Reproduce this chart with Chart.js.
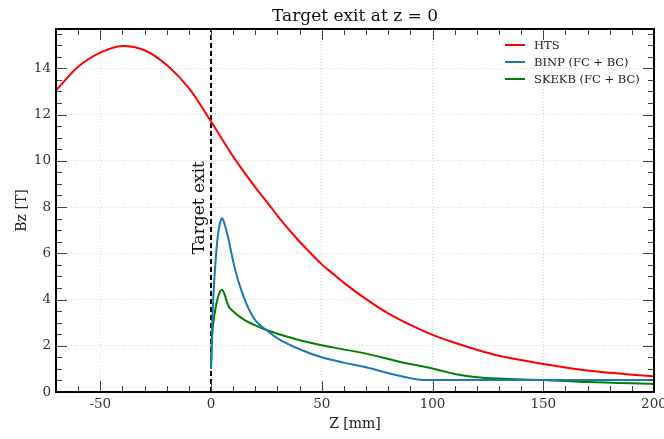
<!DOCTYPE html>
<html>
<head>
<meta charset="utf-8">
<script src="https://cdn.jsdelivr.net/npm/chart.js@4.4.0/dist/chart.umd.min.js"></script>
<style>
  html, body { margin: 0; padding: 0; background: #fff; }
  #wrap { width: 664px; height: 439px; }
</style>
</head>
<body>
<div id="wrap"><canvas id="bzChart"></canvas></div>
<script>
// Field profiles along the beam axis
const chartTitle = 'Target exit at z = 0';
const markerLabel = 'Target exit';

const htsZ  = [-70, -60, -50, -40, -30, -20, -10, 0, 10, 20, 27, 30, 40, 45, 50, 55, 60, 70, 80, 90, 100, 110, 120, 130, 140, 150, 160, 170, 180, 190, 200];
const htsBz = [13.05, 14.07, 14.68, 14.97, 14.78, 14.14, 13.14, 11.7, 10.18, 8.85, 8.0, 7.62, 6.5, 6.0, 5.52, 5.12, 4.72, 4.02, 3.4, 2.9, 2.47, 2.13, 1.83, 1.57, 1.38, 1.21, 1.06, 0.93, 0.83, 0.75, 0.68];

const binpZ  = [0, 0.5, 1, 2, 3, 4, 5, 6, 7, 8, 9, 10, 11, 12, 13, 15, 17, 20, 25, 30, 40, 50, 60, 70, 85, 96, 100, 150, 200];
const binpBz = [1.0, 2.8, 4.0, 5.6, 6.7, 7.3, 7.52, 7.3, 6.95, 6.55, 6.1, 5.65, 5.25, 4.9, 4.6, 4.05, 3.6, 3.1, 2.68, 2.32, 1.85, 1.5, 1.27, 1.07, 0.7, 0.52, 0.52, 0.52, 0.52];

const skekbZ  = [0, 0.5, 1.2, 2, 3, 4, 4.9, 6, 7, 8, 10.2, 15, 20, 25, 30, 40, 55, 70, 85, 100, 110, 120, 130, 150, 170, 200];
const skekbBz = [1.1, 2.4, 3.1, 3.6, 4.05, 4.33, 4.42, 4.25, 3.95, 3.7, 3.47, 3.12, 2.88, 2.68, 2.52, 2.24, 1.93, 1.66, 1.31, 1.02, 0.78, 0.64, 0.58, 0.52, 0.43, 0.35];

const markerZ = [0, 0];
const markerBz = [0, 15.7];

const toPoints = (xs, ys) => xs.map((x, i) => ({ x: x, y: ys[i] }));

const serif = "'DejaVu Serif', 'Liberation Serif', serif";

// Inward major/minor ticks on all four sides, frame, title, label, legend
const frameTicks = {
  id: 'frameTicks',
  afterDraw(chart) {
    const { ctx, chartArea: a, scales: { x, y } } = chart;
    ctx.save();
    ctx.strokeStyle = '#444';
    ctx.lineWidth = 1;
    for (let v = -70; v <= 200; v += 10) {
      const px = Math.round(x.getPixelForValue(v)) + 0.5;
      const len = v % 50 === 0 ? 11 : 6;
      ctx.beginPath();
      ctx.moveTo(px, a.bottom); ctx.lineTo(px, a.bottom - len);
      ctx.moveTo(px, a.top); ctx.lineTo(px, a.top + len);
      ctx.stroke();
    }
    for (let v = 0; v <= 15.5; v += 0.5) {
      const py = Math.round(y.getPixelForValue(v)) + 0.5;
      const len = v % 2 === 0 ? 11 : 6;
      ctx.beginPath();
      ctx.moveTo(a.left, py); ctx.lineTo(a.left + len, py);
      ctx.moveTo(a.right, py); ctx.lineTo(a.right - len, py);
      ctx.stroke();
    }
    ctx.strokeStyle = '#000';
    ctx.lineWidth = 2;
    ctx.strokeRect(a.left, a.top, a.right - a.left, a.bottom - a.top);

    // title centred over the plot area
    ctx.fillStyle = '#111';
    ctx.font = '17px ' + serif;
    ctx.textAlign = 'center';
    ctx.textBaseline = 'middle';
    ctx.fillText(chartTitle, (a.left + a.right) / 2, 17);

    // rotated marker label next to the dashed line
    const x0 = x.getPixelForValue(0);
    ctx.font = '17px ' + serif;
    ctx.translate(x0 - 3, y.getPixelForValue(5.95));
    ctx.rotate(-Math.PI / 2);
    ctx.textAlign = 'left';
    ctx.textBaseline = 'bottom';
    ctx.fillText(markerLabel, 0, 0);
    ctx.restore();

    // legend in the upper right corner
    ctx.save();
    ctx.font = '11.5px ' + serif;
    ctx.textBaseline = 'middle';
    let row = 0;
    chart.data.datasets.forEach(ds => {
      if (!ds.label) return;
      const yy = 45 + row * 17;
      ctx.strokeStyle = ds.borderColor;
      ctx.lineWidth = 2;
      ctx.beginPath();
      ctx.moveTo(505, yy); ctx.lineTo(525, yy);
      ctx.stroke();
      ctx.fillStyle = '#222';
      ctx.fillText(ds.label, 534, yy + 1);
      row++;
    });
    ctx.restore();
  }
};

new Chart(document.getElementById('bzChart'), {
  type: 'line',
  data: {
    datasets: [
      { label: 'HTS', data: toPoints(htsZ, htsBz), borderColor: '#ff0000', borderWidth: 2, pointRadius: 0, cubicInterpolationMode: 'monotone' },
      { label: 'BINP (FC + BC)', data: toPoints(binpZ, binpBz), borderColor: '#1f77b4', borderWidth: 2, pointRadius: 0, cubicInterpolationMode: 'monotone' },
      { label: 'SKEKB (FC + BC)', data: toPoints(skekbZ, skekbBz), borderColor: '#008000', borderWidth: 2, pointRadius: 0, cubicInterpolationMode: 'monotone' },
      { label: '', data: toPoints(markerZ, markerBz), borderColor: '#000', borderWidth: 2, borderDash: [5, 3], pointRadius: 0 }
    ]
  },
  options: {
    responsive: true,
    maintainAspectRatio: false,
    animation: false,
    layout: { padding: { top: 29, right: 10, left: 0, bottom: 0 } },
    plugins: {
      legend: { display: false },
      tooltip: { enabled: false },
      title: { display: false }
    },
    scales: {
      x: {
        type: 'linear',
        min: -70,
        max: 200,
        ticks: { stepSize: 50, includeBounds: false, color: '#333', font: { family: serif, size: 13.5 }, padding: 4 },
        grid: { color: '#d6d6d6', drawTicks: false },
        border: { display: false, dash: [1, 2] },
        title: { display: true, text: 'Z [mm]', color: '#222', font: { family: serif, size: 14 }, padding: { top: 0, bottom: 6 } },
        afterFit: s => { s.height = 47; s.paddingLeft = 0; s.paddingRight = 0; }
      },
      y: {
        min: 0,
        max: 15.7,
        ticks: { stepSize: 2, includeBounds: false, color: '#333', font: { family: serif, size: 13.5 }, padding: 5 },
        grid: { color: '#d6d6d6', drawTicks: false },
        border: { display: false, dash: [1, 2] },
        title: { display: true, text: 'Bz [T]', color: '#222', font: { family: serif, size: 14 }, padding: { top: 14, bottom: 0 } },
        afterFit: s => { s.width = 56; s.paddingTop = 0; s.paddingBottom = 0; }
      }
    }
  },
  plugins: [frameTicks]
});
</script>
</body>
</html>
